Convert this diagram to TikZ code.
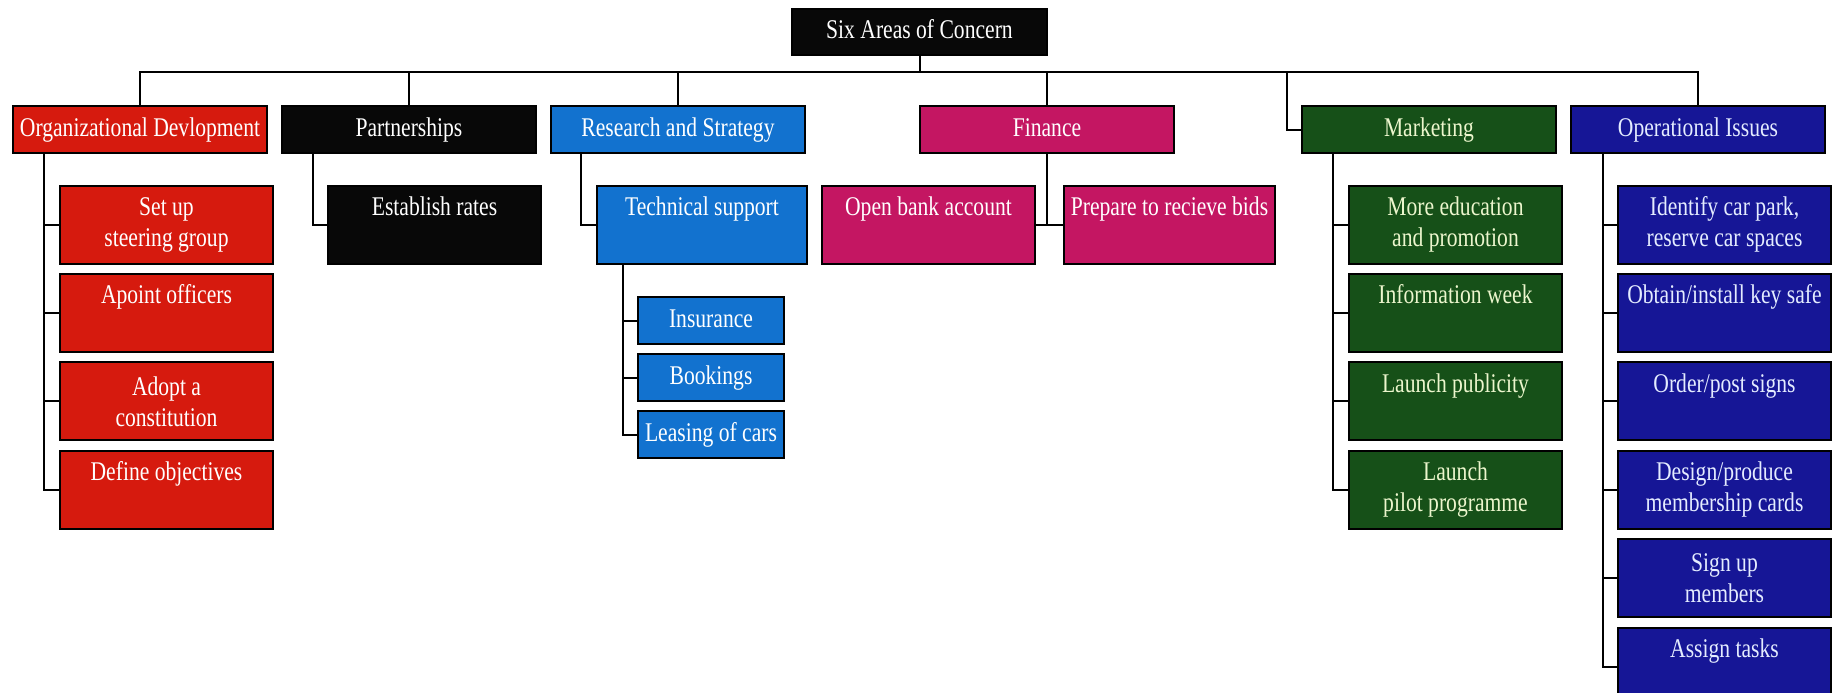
\documentclass[tikz,border=0pt]{standalone}
\usepackage{fontspec}
\setmainfont{Liberation Serif}[FakeStretch=0.8]
\definecolor{cred}{RGB}{214,26,14}
\definecolor{cblk}{RGB}{8,8,8}
\definecolor{cblue}{RGB}{18,114,207}
\definecolor{cmag}{RGB}{196,22,98}
\definecolor{cgrn}{RGB}{22,80,24}
\definecolor{cnavy}{RGB}{22,22,150}
\definecolor{tgrn}{RGB}{236,246,205}
\definecolor{tnavy}{RGB}{228,236,255}
\tikzset{
  box/.style={draw=black, line width=2pt, inner sep=0pt, anchor=north west,
    align=center, font=\fontsize{27}{31}\selectfont, text=white},
  lone/.style={box, minimum width=254pt, minimum height=47pt, text height=19pt, text depth=6pt},
  ltwo/.style={box, minimum width=213pt, minimum height=78pt},
  lthree/.style={box, minimum width=146pt, minimum height=47pt, text height=19pt, text depth=6pt},
  fred/.style={fill=cred},
  fblk/.style={fill=cblk},
  fblue/.style={fill=cblue},
  fmag/.style={fill=cmag},
  fgrn/.style={fill=cgrn, text=tgrn},
  fnavy/.style={fill=cnavy, text=tnavy},
  conn/.style={draw=black, line width=2pt, line cap=rect}
}
\begin{document}
\begin{tikzpicture}[x=1pt,y=-1pt]
\useasboundingbox (0,0) rectangle (1834,693);
% root
\node[box, fblk, minimum width=255pt, minimum height=46pt, text height=19pt, text depth=6pt] (root) at (791,8) {Six Areas of Concern};
% level 1
\node[lone, fred]  (od)  at (12,105)   {Organizational Devlopment};
\node[lone, fblk]  (pt)  at (281,105)  {Partnerships};
\node[lone, fblue] (rs)  at (550,105)  {Research and Strategy};
\node[lone, fmag]  (fin) at (919,105)  {Finance};
\node[lone, fgrn]  (mk)  at (1301,105) {Marketing};
\node[lone, fnavy] (ops) at (1570,105) {Operational Issues};
% org dev
\node[ltwo, fred] (od1) at (59,184.5) {Set up\\steering group};
\node[ltwo, fred] (od2) at (59,272.9) {Apoint officers\\\phantom{g}};
\node[ltwo, fred] (od3) at (59,361.3) {Adopt a\\constitution};
\node[ltwo, fred] (od4) at (59,449.7) {Define objectives\\\phantom{g}};
% partnerships
\node[ltwo, fblk] (er) at (327,184.5) {Establish rates\\\phantom{g}};
% research
\node[ltwo, fblue, minimum width=210pt] (ts) at (596,184.5) {Technical support\\\phantom{g}};
\node[lthree, fblue] (ins) at (637,296) {Insurance};
\node[lthree, fblue] (bk)  at (637,353) {Bookings};
\node[lthree, fblue] (lc)  at (637,410) {Leasing of cars};
% finance
\node[ltwo, fmag] (ob) at (821,184.5) {Open bank account\\\phantom{g}};
\node[ltwo, fmag, minimum width=211pt] (pr) at (1063,184.5) {Prepare to recieve bids\\\phantom{g}};
% marketing
\node[ltwo, fgrn] (mk1) at (1348,184.5) {More education\\and promotion};
\node[ltwo, fgrn] (mk2) at (1348,272.9) {Information week\\\phantom{g}};
\node[ltwo, fgrn] (mk3) at (1348,361.3) {Launch publicity\\\phantom{g}};
\node[ltwo, fgrn] (mk4) at (1348,449.7) {Launch\\pilot programme};
% operational
\node[ltwo, fnavy] (op1) at (1617,184.5) {Identify car park,\\reserve car spaces};
\node[ltwo, fnavy] (op2) at (1617,272.9) {Obtain/install key safe\\\phantom{g}};
\node[ltwo, fnavy] (op3) at (1617,361.3) {Order/post signs\\\phantom{g}};
\node[ltwo, fnavy] (op4) at (1617,449.7) {Design/produce\\membership cards};
\node[ltwo, fnavy] (op5) at (1617,538.1) {Sign up\\members};
\node[ltwo, fnavy] (op6) at (1617,626.5) {Assign tasks\\\phantom{g}};
% bus
\coordinate (bus) at (0,72);
\coordinate (mkj) at (1287,72);
\draw[conn] (od.north) -- (od.north |- bus) -- (ops.north |- bus) -- (ops.north);
\draw[conn] (root.south) -- (root.south |- bus);
\draw[conn] (pt.north) -- (pt.north |- bus);
\draw[conn] (rs.north) -- (rs.north |- bus);
\draw[conn] (fin.north) -- (fin.north |- bus);
\draw[conn] (mkj) |- (mk.west);
% branch lines
\coordinate (odx) at ([xshift=32pt]od.south west);
\foreach \n in {od1,od2,od3,od4} \draw[conn] (odx) |- (\n.west);
\coordinate (ptx) at ([xshift=32pt]pt.south west);
\draw[conn] (ptx) |- (er.west);
\coordinate (rsx) at ([xshift=31pt]rs.south west);
\draw[conn] (rsx) |- (ts.west);
\coordinate (tsx) at ([xshift=27pt]ts.south west);
\foreach \n in {ins,bk,lc} \draw[conn] (tsx) |- (\n.west);
\draw[conn] (fin.south) -- (fin.south |- ob.east);
\draw[conn] (ob.east) -- (pr.west);
\coordinate (mkx) at ([xshift=32pt]mk.south west);
\foreach \n in {mk1,mk2,mk3,mk4} \draw[conn] (mkx) |- (\n.west);
\coordinate (opx) at ([xshift=33pt]ops.south west);
\foreach \n in {op1,op2,op3,op4,op5,op6} \draw[conn] (opx) |- (\n.west);
\end{tikzpicture}
\end{document}
